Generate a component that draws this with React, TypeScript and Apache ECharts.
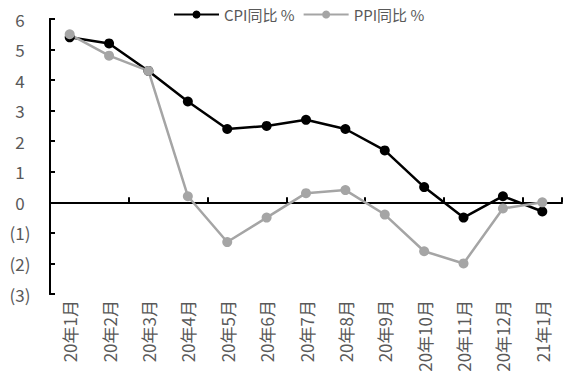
import React, { useEffect, useRef } from "react";
import * as echarts from "echarts";

const categories = ["20年1月", "20年2月", "20年3月", "20年4月", "20年5月", "20年6月", "20年7月", "20年8月", "20年9月", "20年10月", "20年11月", "20年12月", "21年1月"];
const cpi = [5.4, 5.2, 4.3, 3.3, 2.4, 2.5, 2.7, 2.4, 1.7, 0.5, -0.5, 0.2, -0.3];
const ppi = [5.5, 4.8, 4.3, 0.2, -1.3, -0.5, 0.3, 0.4, -0.4, -1.6, -2.0, -0.2, 0.0];

const FONT = "Noto Sans CJK SC";
const LABEL = "#595959";
const AXIS = "#000000";

export default function App() {
  const ref = useRef<HTMLDivElement>(null);
  useEffect(() => {
    const chart = echarts.init(ref.current!, null, { renderer: "svg" });
    chart.setOption({
      animation: false,
      legend: {
        top: 2,
        left: 168,
        itemWidth: 45,
        itemHeight: 10,
        itemGap: 8,
        textStyle: { fontSize: 15, color: LABEL, fontFamily: FONT },
      },
      grid: { left: 50, right: 14, top: 19, bottom: 98 },
      xAxis: [
        {
          type: "category",
          data: categories,
          axisLine: { show: true, lineStyle: { color: AXIS, width: 2 } },
          axisTick: { show: true, inside: true, length: 5, lineStyle: { color: AXIS, width: 2 } },
          axisLabel: { show: true, color: "#ffffff", fontSize: 8, margin: 2 },
        },
        {
          type: "category",
          data: categories,
          position: "bottom",
          axisLine: { show: false, onZero: false },
          axisTick: { show: false },
          axisLabel: { interval: 0, rotate: 90, fontSize: 17, color: LABEL, margin: 6, fontFamily: FONT },
        },
      ],
      yAxis: [
        {
          type: "value",
          min: -3,
          max: 6,
          interval: 1,
          splitLine: { show: false },
          axisLine: { show: true, onZero: false, lineStyle: { color: AXIS, width: 2 } },
          axisTick: { show: true, inside: true, length: 5, lineStyle: { color: AXIS, width: 2 } },
          axisLabel: {
            fontSize: 17,
            color: LABEL,
            margin: 30,
            align: "center",
            fontFamily: FONT,
            formatter: (v: number) => (v < 0 ? `(${Math.abs(v)})` : `${v}`),
          },
        },
        {
          type: "value",
          position: "left",
          min: -3,
          max: 6,
          interval: 1,
          splitLine: { show: false },
          axisLine: { show: true, onZero: false, lineStyle: { color: AXIS, width: 2 } },
          axisTick: { show: true, inside: true, length: 5, lineStyle: { color: AXIS, width: 2 } },
          axisLabel: { show: false },
        },
      ],
      series: [
        {
          name: "CPI同比 %",
          type: "line",
          data: cpi,
          xAxisIndex: 0,
          yAxisIndex: 0,
          symbol: "circle",
          symbolSize: 10,
          itemStyle: { color: "#000000" },
          lineStyle: { color: "#000000", width: 2.5 },
        },
        {
          name: "PPI同比 %",
          type: "line",
          data: ppi,
          xAxisIndex: 0,
          yAxisIndex: 0,
          symbol: "circle",
          symbolSize: 10,
          itemStyle: { color: "#A5A5A5" },
          lineStyle: { color: "#A5A5A5", width: 2.5 },
        },
      ],
    });
    return () => chart.dispose();
  }, []);
  return <div ref={ref} style={{ width: 576, height: 392, position: "absolute", left: 0, top: 0 }} />;
}
